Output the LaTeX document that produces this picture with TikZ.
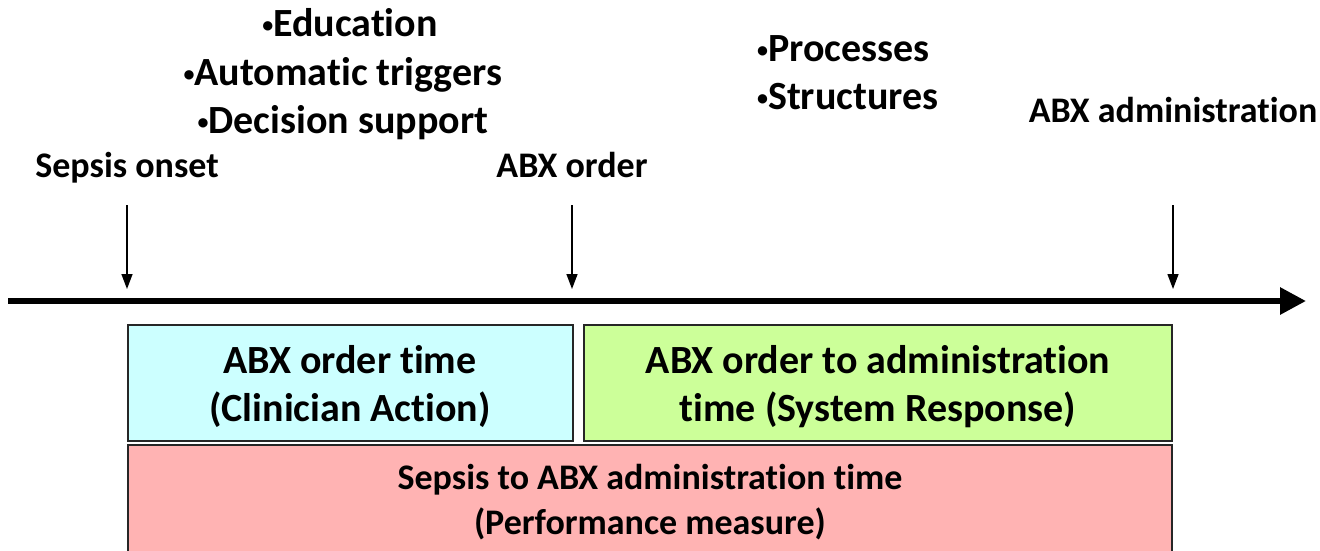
\documentclass[tikz,border=0pt]{standalone}
\usepackage{fontspec}
\setmainfont{Carlito}[Ligatures=NoCommon]
\usepackage{graphicx}
\usetikzlibrary{arrows.meta}
\definecolor{cyanbox}{HTML}{CCFFFF}
\definecolor{greenbox}{HTML}{CCFF99}
\definecolor{redbox}{HTML}{FFB3B3}
\newcommand\smbul{\raisebox{0.09em}{\scalebox{0.55}{•}}}
\tikzset{
  lbl/.style={anchor=base,font=\fontsize{36}{43}\selectfont\bfseries,inner sep=0pt},
  bul/.style={anchor=base,font=\fontsize{40}{48}\selectfont\bfseries,inner sep=0pt},
  boxtxt/.style={anchor=base,font=\fontsize{40}{48}\selectfont\bfseries,inner sep=0pt},
  redtxt/.style={anchor=base,font=\fontsize{36}{45}\selectfont\bfseries,inner sep=0pt},
  pbox/.style={draw=black!85,line width=1.5pt},
  tick/.style={line width=1.4pt,-{Triangle[length=15pt,width=11pt]}},
  axis/.style={line width=6pt,-{Triangle[length=26pt,width=26pt]}}
}
\begin{document}
\begin{tikzpicture}[x=1pt,y=-1pt]
\useasboundingbox (0,0) rectangle (1320,550);
\begin{scope}
\clip (0,0) rectangle (1320,550);
% boxes
\path[pbox,fill=cyanbox] (128,325) rectangle (573,441);
\path[pbox,fill=greenbox] (584,325) rectangle (1172,441);
\path[pbox,fill=redbox] (128,445) rectangle (1172,560);
\end{scope}
\node[boxtxt] (c1) at (350,373) {ABX order time};
\node[boxtxt] (c2) at (350,421) {(Clinician Action)};
\node[boxtxt] (g1) at (878,373) {ABX order to administration};
\node[boxtxt] (g2) at (878,421) {time (System Response)};
\node[redtxt] (r1) at (650,489) {Sepsis to ABX administration time};
\node[redtxt] (r2) at (650,534) {(Performance measure)};
% axis
\coordinate (a0) at (8,301);
\coordinate (a1) at (1306,301);
\draw[axis] (a0) -- (a1);
% ticks
\coordinate (t1s) at (127,205); \coordinate (t1e) at (127,289);
\coordinate (t2s) at (572,205); \coordinate (t2e) at (572,289);
\coordinate (t3s) at (1173,205); \coordinate (t3e) at (1173,289);
\draw[tick] (t1s) -- (t1e);
\draw[tick] (t2s) -- (t2e);
\draw[tick] (t3s) -- (t3e);
% labels
\node[lbl] (l1) at (127,177) {Sepsis onset};
\node[lbl] (l2) at (572,177) {ABX order};
\node[lbl] (l3) at (1173,122) {ABX administration};
% bullets
\node[bul] (b1) at (350,36) {\smbul Education};
\node[bul] (b2) at (343,85) {\smbul Automatic triggers};
\node[bul] (b3) at (343,133) {\smbul Decision support};
\node[bul,anchor=base west] (p1) at (757,61) {\smbul Processes};
\node[bul,anchor=base west] (p2) at (757,109) {\smbul Structures};
\end{tikzpicture}
\end{document}
